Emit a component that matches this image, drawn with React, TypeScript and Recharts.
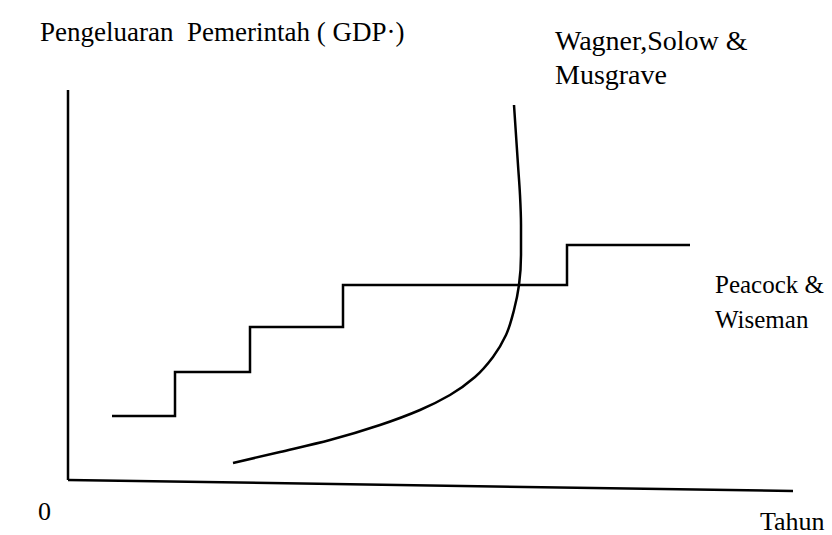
import { ComposedChart, Line, ReferenceLine, XAxis, YAxis } from "recharts";

// Horizontal units = years (arbitrary), vertical units = government spending (arbitrary)
const stepYears = [44, 107, 182, 275, 499, 622];
const stepSpending = [64, 108, 153, 195, 235, 235];

const curveYears = [165, 212, 262, 312, 352, 382, 407, 425, 438, 446, 451, 453, 453, 452, 450, 448, 446];
const curveSpending = [17, 28, 40, 55, 70, 85, 103, 123, 145, 170, 195, 225, 255, 285, 315, 345, 375];

const xAxisEnd = { x: 725, y: -11 };
const yAxisTop = { x: 0, y: 390 };

const stepData = stepYears.map((x, i) => ({ x, y: stepSpending[i] }));
const curveData = curveYears.map((x, i) => ({ x, y: curveSpending[i] }));

const font = "'Liberation Serif', 'DejaVu Serif', 'Times New Roman', Times, serif";

const label = (left: number, top: number, size = 26): React.CSSProperties => ({
  position: "absolute",
  left,
  top,
  fontFamily: font,
  fontSize: size,
  lineHeight: 1,
  color: "#000",
  whiteSpace: "nowrap",
});

export default function App() {
  return (
    <div style={{ position: "absolute", left: 0, top: 0, width: 832, height: 535, background: "#fff" }}>
      <ComposedChart
        width={832}
        height={535}
        margin={{ top: 90, right: 39, bottom: 55, left: 68 }}
      >
        <XAxis
          type="number"
          dataKey="x"
          domain={[0, 725]}
          height={0}
          tick={false}
          tickLine={false}
          axisLine={false}
        />
        <YAxis
          type="number"
          dataKey="y"
          domain={[0, 390]}
          width={0}
          tick={false}
          tickLine={false}
          axisLine={false}
        />
        <ReferenceLine
          segment={[{ x: 0, y: 0 }, yAxisTop]}
          stroke="#000"
          strokeWidth={2.5}
          ifOverflow="visible"
        />
        <ReferenceLine
          segment={[{ x: 0, y: 0 }, xAxisEnd]}
          stroke="#000"
          strokeWidth={2.5}
          ifOverflow="visible"
        />
        <Line
          data={stepData}
          dataKey="y"
          type="stepAfter"
          stroke="#000"
          strokeWidth={2.5}
          dot={false}
          isAnimationActive={false}
        />
        <Line
          data={curveData}
          dataKey="y"
          type="monotoneY"
          stroke="#000"
          strokeWidth={2.5}
          dot={false}
          isAnimationActive={false}
        />
      </ComposedChart>
      <div style={label(40, 19, 27)}>Pengeluaran&nbsp; Pemerintah ( GDP·)</div>
      <div style={label(555, 27, 28)}>Wagner,Solow &amp;</div>
      <div style={label(555, 61, 28)}>Musgrave</div>
      <div style={label(715, 272, 25)}>Peacock &amp;</div>
      <div style={label(715, 307, 25)}>Wiseman</div>
      <div style={label(38, 499)}>0</div>
      <div style={label(760, 509)}>Tahun</div>
    </div>
  );
}
